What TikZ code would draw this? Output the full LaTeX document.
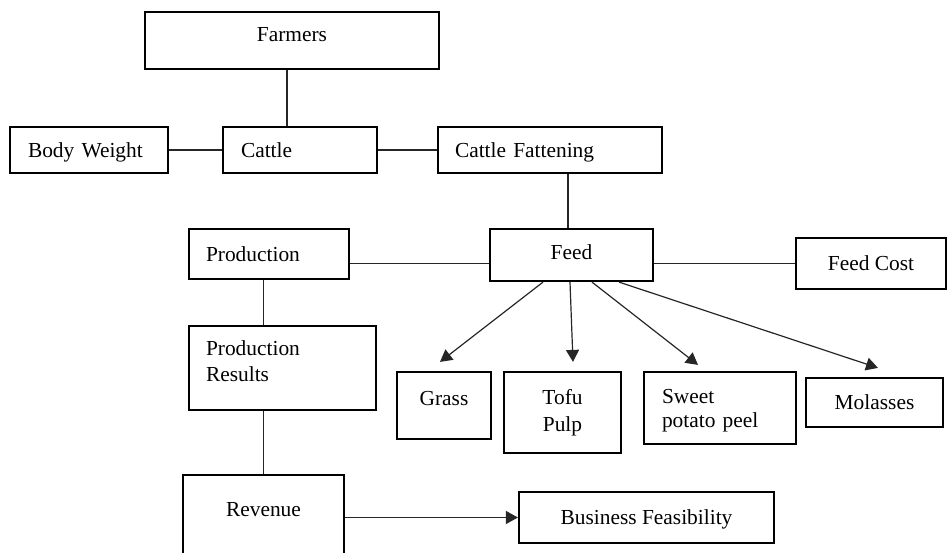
\documentclass[tikz,border=0pt]{standalone}
\usepackage{fontspec}
\setmainfont{Liberation Serif}
\usetikzlibrary{arrows.meta}

\begin{document}
\begin{tikzpicture}[x=0.5pt,y=-0.5pt,
  box/.style={draw=black, line width=1.1pt, rectangle, inner sep=0pt,
    font=\fontsize{10.7}{13}\selectfont},
  one/.style={text height=8.4pt, text depth=1.3pt},
  lbox/.style={box, align=left, inner xsep=9pt},
  con/.style={black!85, line width=0.6pt},
  arr/.style={con, -{Triangle[length=6pt,width=6.5pt]}}]
\useasboundingbox (0,0) rectangle (948,552);

\node[box,one,text depth=7.8pt,minimum width=147pt,minimum height=28.5pt] (farmers) at (292,40.5) {Farmers};
\node[lbox,one,text width=61pt,minimum height=23pt] (body) at (89,150) {Body Weight};
\node[lbox,one,text width=59pt,minimum height=23pt] (cattle) at (300,150) {Cattle};
\node[lbox,one,inner xsep=8.5pt,text width=95pt,minimum height=23pt] (fatten) at (550,150) {Cattle Fattening};

\node[lbox,one,inner xsep=8.5pt,text width=63pt,minimum height=25pt] (prod) at (269,254) {Production};
\node[box,one,text depth=4.3pt,minimum width=81.5pt,minimum height=26pt] (feed) at (571.5,255) {Feed};
\node[box,one,minimum width=75pt,minimum height=25.5pt] (cost) at (871,263.5) {Feed Cost};

\node[lbox,inner xsep=8.5pt,text width=76.5pt,text depth=20pt,minimum height=42pt] (results) at (282.5,368) {Production\\Results};
\node[box,one,text depth=8.8pt,minimum width=47pt,minimum height=33.5pt] (grass) at (444,405.5) {Grass};
\node[box,align=center,font=\fontsize{10.7}{13.5}\selectfont,minimum width=58.5pt,minimum height=40.5pt] (tofu) at (562.5,412.5) {Tofu\\Pulp};
\node[lbox,font=\fontsize{10.7}{12}\selectfont,text width=58pt,text height=10pt,minimum height=36pt] (sweet) at (720,408) {Sweet\\potato peel};
\node[box,one,minimum width=68.5pt,minimum height=24.5pt] (molasses) at (874.5,402.5) {Molasses};

\node[box,one,text depth=7.8pt,minimum width=80.5pt,minimum height=40.5pt] (revenue) at (263.5,515.5) {Revenue};
\node[box,one,minimum width=127.5pt,minimum height=25.5pt] (feas) at (646.5,517.5) {Business Feasibility};

\draw[con] ([xshift=-2.5pt]farmers.south) -- ([xshift=-2.5pt]farmers.south |- cattle.north);
\draw[con] (body.east) -- (cattle.west);
\draw[con] (cattle.east) -- (fatten.west);
\draw[con] ([xshift=-1.75pt]feed.north) -- ([xshift=-1.75pt]feed.north |- fatten.south);
\draw[con] (prod.east |- cost) -- (feed.west |- cost);
\draw[con] (feed.east |- cost) -- (cost.west);
\draw[con] (prod.south -| revenue) -- (results.north -| revenue);
\draw[con] (results.south -| revenue) -- (revenue.north);
\draw[arr] (revenue.east |- feas) -- (feas.west);

\draw[arr] ([xshift=-14.25pt]feed.south) -- ([xshift=-2pt,yshift=4.5pt]grass.north);
\draw[arr] ([xshift=-0.75pt]feed.south) -- ([xshift=5.25pt,yshift=4.5pt]tofu.north);
\draw[arr] ([xshift=10.25pt]feed.south) -- ([xshift=-11pt,yshift=3pt]sweet.north);
\draw[arr] ([xshift=23.75pt]feed.south) -- ([xshift=1.75pt,yshift=4.5pt]molasses.north);
\end{tikzpicture}
\end{document}
